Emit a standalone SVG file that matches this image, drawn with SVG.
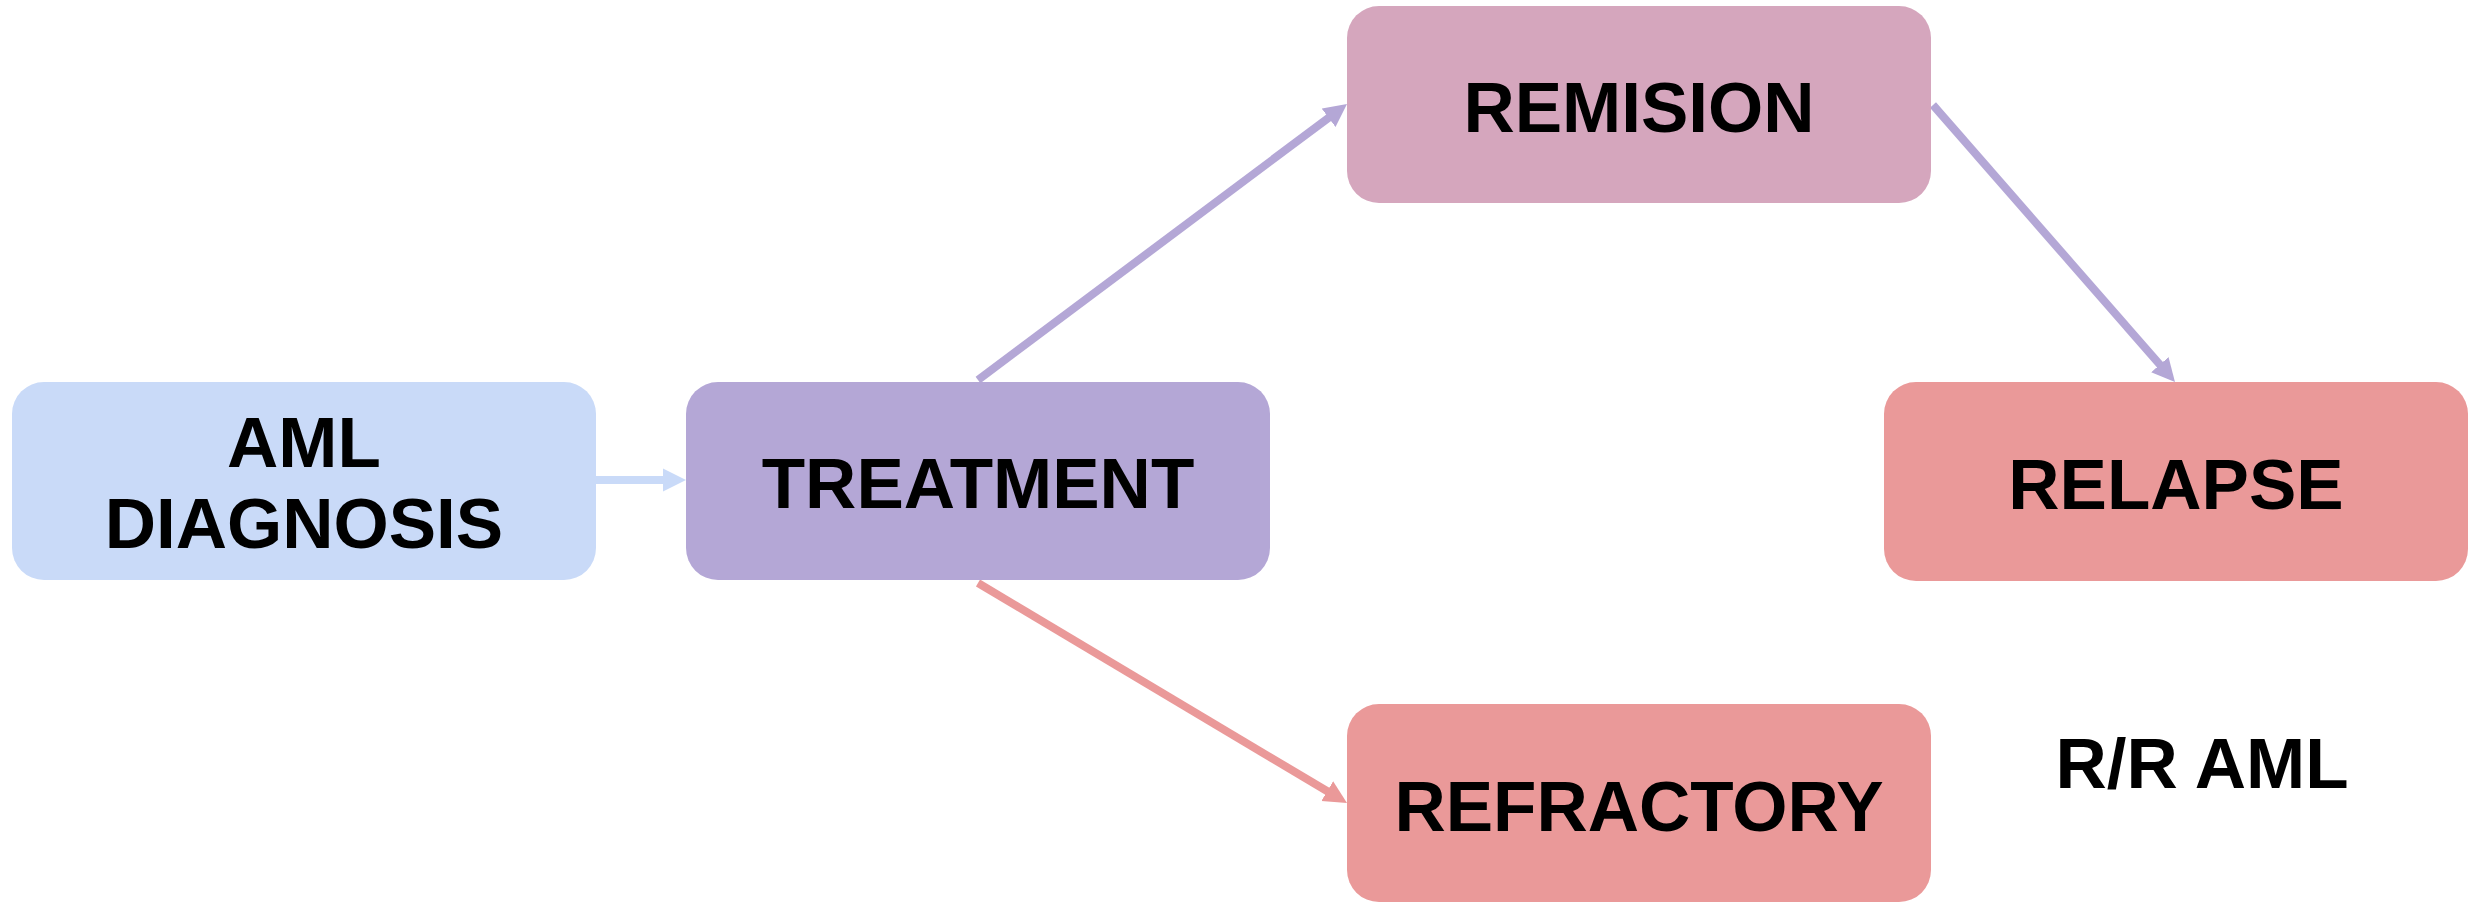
<svg xmlns="http://www.w3.org/2000/svg" width="2474" height="902" viewBox="0 0 2474 902">
<style>
.lbl{font-family:"Liberation Sans",Arial,sans-serif;font-weight:bold;font-size:71px;fill:#000;text-anchor:middle}
.blue{fill:#c9daf8}.purple{fill:#b4a7d6}.pink{fill:#d5a6bd}.red{fill:#ea9999}
.conn{stroke-width:8;fill:none}
</style>
<defs>
<marker id="hBlue" markerUnits="userSpaceOnUse" markerWidth="24" markerHeight="24" refX="6" refY="12" orient="auto"><path d="M0,0.5 L23,12 L0,23.5 z" fill="#c9daf8"/></marker>
<marker id="hPurple" markerUnits="userSpaceOnUse" markerWidth="24" markerHeight="24" refX="6" refY="12" orient="auto"><path d="M0,0.5 L23,12 L0,23.5 z" fill="#b4a7d6"/></marker>
<marker id="hRed" markerUnits="userSpaceOnUse" markerWidth="24" markerHeight="24" refX="6" refY="12" orient="auto"><path d="M0,0.5 L23,12 L0,23.5 z" fill="#ea9999"/></marker>
</defs>
<rect width="2474" height="902" fill="#fff"/>
<g id="connectors">
<line class="conn" x1="596" y1="480" x2="669" y2="480" stroke="#c9daf8" marker-end="url(#hBlue)"/>
<line class="conn" x1="978" y1="380" x2="1333.4" y2="114.2" stroke="#b4a7d6" marker-end="url(#hPurple)"/>
<line class="conn" x1="1933" y1="105" x2="2163.8" y2="369.2" stroke="#b4a7d6" marker-end="url(#hPurple)"/>
<line class="conn" x1="978" y1="583" x2="1332.4" y2="794.3" stroke="#ea9999" marker-end="url(#hRed)"/>
</g>
<g id="aml-diagnosis">
<rect class="blue" x="12" y="382" width="584" height="198" rx="32" ry="32"/>
<text class="lbl" x="304" y="467">AML</text>
<text class="lbl" x="304" y="548">DIAGNOSIS</text>
</g>
<g id="treatment">
<rect class="purple" x="686" y="382" width="584" height="198" rx="32" ry="32"/>
<text class="lbl" x="978" y="508">TREATMENT</text>
</g>
<g id="remision">
<rect class="pink" x="1347" y="6" width="584" height="197" rx="32" ry="32"/>
<text class="lbl" x="1639" y="132">REMISION</text>
</g>
<g id="relapse">
<rect class="red" x="1884" y="382" width="584" height="199" rx="32" ry="32"/>
<text class="lbl" x="2176" y="509">RELAPSE</text>
</g>
<g id="refractory">
<rect class="red" x="1347" y="704" width="584" height="198" rx="32" ry="32"/>
<text class="lbl" x="1639" y="831">REFRACTORY</text>
</g>
<g id="rr-aml">
<text class="lbl" x="2202" y="788">R/R AML</text>
</g>
</svg>
